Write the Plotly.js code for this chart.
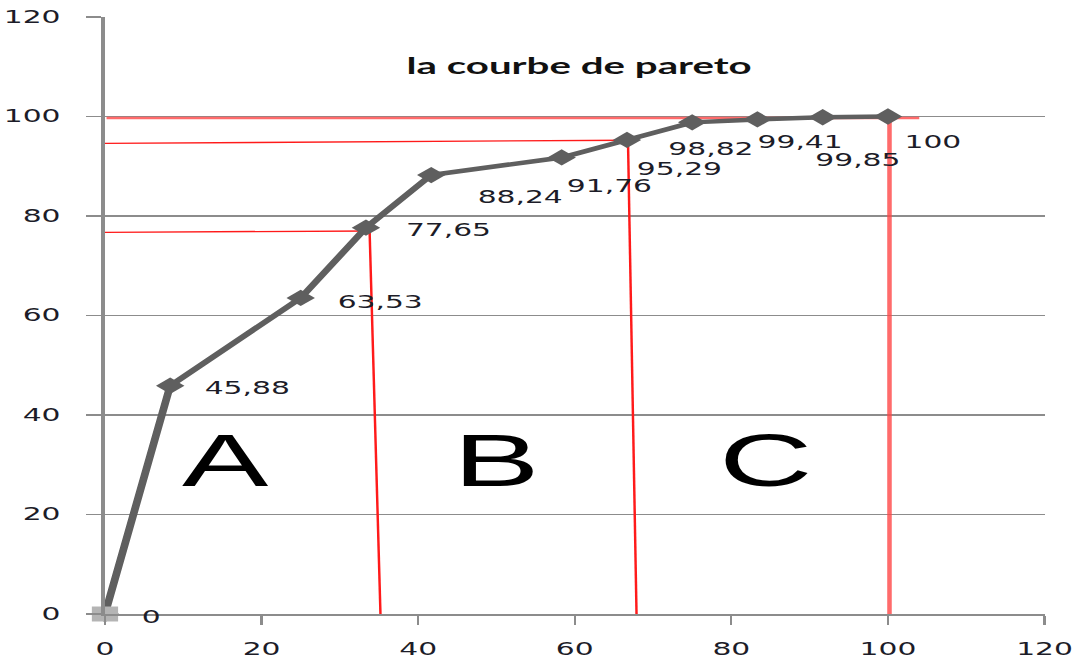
<!DOCTYPE html>
<html>
<head>
<meta charset="utf-8">
<script src="https://cdn.plot.ly/plotly-3.0.1.min.js"></script>
<style>
  html, body { margin: 0; padding: 0; background: #ffffff; overflow: hidden; }
  #chart { width: 619px; height: 661px; transform: scaleX(1.7496); transform-origin: 0 0; }
</style>
</head>
<body>
<div id="chart"></div>
<script>
// ---- data ----
const xPct   = [0, 8.33, 25, 33.33, 41.67, 58.33, 66.67, 75, 83.33, 91.67, 100];
const cumPct = [0, 45.88, 63.53, 77.65, 88.24, 91.76, 95.29, 98.82, 99.41, 99.85, 100];
const zoneNames = ['A', 'B', 'C'];
const zoneX = [15.5, 50, 84.3];
const zoneY = [30.9, 30.9, 30.9];
const xTicks = [0, 20, 40, 60, 80, 100, 120];
const yTicks = [0, 20, 40, 60, 80, 100, 120];
const chartTitle = 'la courbe de pareto';
// red guide lines (x0, y0, x1, y1) in data units
const guideX0 = [0.2, -0.56, 0, 33.8, 66.8, 100.2];
const guideY0 = [99.7, 94.6, 76.7, 77.0, 95.24, 100];
const guideX1 = [104, 66.8, 33.8, 35.2, 67.9, 100.2];
const guideY1 = [99.7, 95.24, 77.0, -0.75, -0.75, -2.5];
const guideHeavy = [true, false, false, false, false, true];

// ---- label offsets (style), in reference pixels ----
const labelDx = [46, 78, 79, 82, 89, 48.5, 52, 19, 43, 35.5, 44];
const labelDy = [3, 2, 3.6, 2.5, 21.6, 29, 28.7, 26.3, 22.3, 42.5, 25];
const SX = 1.7496;

const fmt = v => String(v).replace('.', ',');

const lineTrace = {
  x: xPct, y: cumPct, type: 'scatter', mode: 'lines+markers',
  line: { color: '#5f5f5f', width: 4.5 },
  marker: { symbol: 'diamond', size: 12.5, color: '#5f5f5f' },
  cliponaxis: false, hoverinfo: 'skip', showlegend: false
};
const startTrace = {
  x: [xPct[0]], y: [cumPct[0]], type: 'scatter', mode: 'markers',
  marker: { symbol: 'square', size: 15, color: '#b4b4b4' },
  cliponaxis: false, hoverinfo: 'skip', showlegend: false
};

const annotations = [];
xPct.forEach((x, i) => {
  annotations.push({
    x: x, y: cumPct[i], xref: 'x', yref: 'y', text: fmt(cumPct[i]),
    showarrow: false, xanchor: 'center', yanchor: 'middle',
    xshift: labelDx[i] / SX, yshift: -labelDy[i],
    font: { family: 'DejaVu Sans', size: 17, color: '#1c1c28' }
  });
});
zoneNames.forEach((z, i) => {
  annotations.push({
    x: zoneX[i], y: zoneY[i], xref: 'x', yref: 'y', text: z,
    showarrow: false, xanchor: 'center', yanchor: 'middle',
    font: { family: 'Liberation Sans', size: 74, color: '#000000' }
  });
});

const shapes = guideX0.map((x0, i) => ({
  type: 'line', xref: 'x', yref: 'y', layer: 'between',
  x0: x0, y0: guideY0[i], x1: guideX1[i], y1: guideY1[i],
  line: guideHeavy[i] ? { color: 'rgba(255,70,70,0.8)', width: 2.6 }
                      : { color: '#ff1a1a', width: 1.4 }
}));

const layout = {
  width: 619, height: 661,
  margin: { l: 60, r: 22, t: 17, b: 47, pad: 0 },
  paper_bgcolor: '#ffffff', plot_bgcolor: '#ffffff',
  showlegend: false,
  title: {
    text: chartTitle, xref: 'paper', yref: 'paper', x: 0.5047, y: 0.918,
    xanchor: 'center', yanchor: 'middle',
    font: { family: 'Lato', size: 23, color: '#111111', weight: 'bold' }
  },
  xaxis: {
    range: [0, 120], tickvals: xTicks, ticktext: xTicks.map(String),
    showgrid: false, zeroline: false, showline: true,
    linecolor: '#8c8c8c', linewidth: 1.5,
    ticks: 'outside', ticklen: 9, tickwidth: 1.3, tickcolor: '#8c8c8c',
    ticklabelstandoff: 10,
    tickfont: { family: 'DejaVu Sans', size: 17, color: '#1c1c28' },
    fixedrange: true
  },
  yaxis: {
    range: [0, 120], tickvals: yTicks, ticktext: yTicks.map(String),
    showgrid: true, gridcolor: '#8c8c8c', gridwidth: 1.5,
    zeroline: false, showline: true, linecolor: '#8c8c8c', linewidth: 2,
    ticks: 'outside', ticklen: 9, tickwidth: 1.5, tickcolor: '#8c8c8c',
    ticklabelstandoff: 11,
    tickfont: { family: 'DejaVu Sans', size: 17, color: '#1c1c28' },
    fixedrange: true
  },
  annotations: annotations,
  shapes: shapes
};

Plotly.newPlot('chart', [lineTrace, startTrace], layout, { displayModeBar: false, staticPlot: true });
</script>
</body>
</html>
